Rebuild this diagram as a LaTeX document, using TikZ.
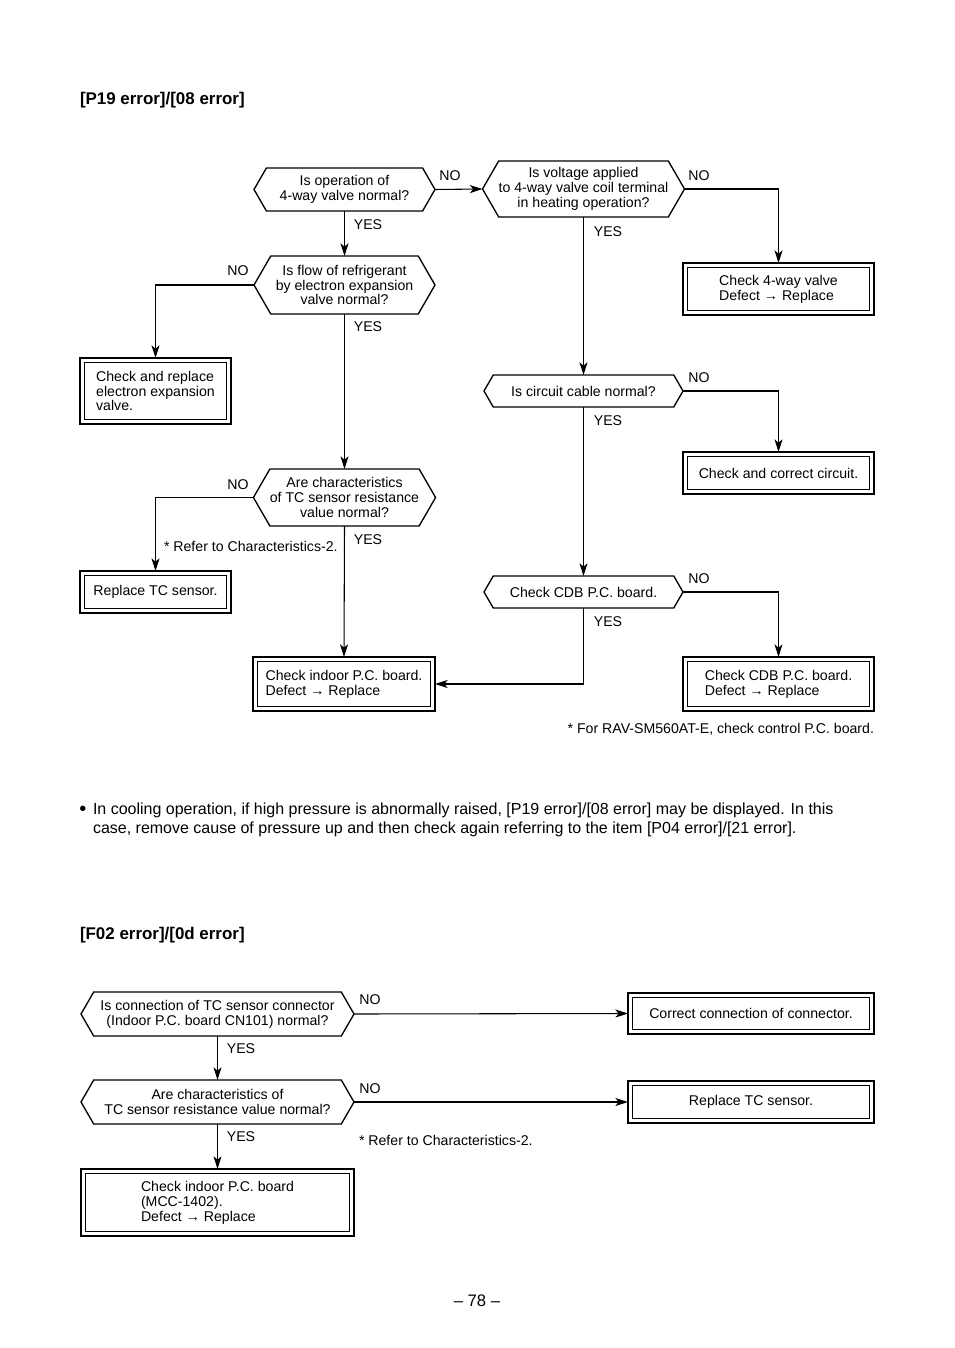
\documentclass[tikz,border=0pt]{standalone}
\usepackage{fontspec}
\setmainfont{Liberation Sans}
\usetikzlibrary{shapes.symbols,arrows.meta}
\newcommand\fnode{\fontsize{10.6}{11.2}\selectfont}
\newcommand\fbody{\fontsize{12}{14.25}\selectfont}
\newcommand\ftitle{\fontsize{12.7}{14}\selectfont\bfseries}
\newcommand\arr{→}
\begin{document}
\begin{tikzpicture}[x=0.75pt,y=-0.75pt,
  every node/.style={inner sep=0pt, outer sep=0pt, font=\fnode},
  dec/.style 2 args={signal, signal to=east and west, signal pointer angle=120, draw, line width=1pt, minimum width=#1*0.75pt, minimum height=#2*0.75pt, align=center},
  box/.style 2 args={draw, line width=2pt, rectangle, minimum width=#1*0.75pt, minimum height=#2*0.75pt,
    path picture={\draw[line width=0.7pt] ([shift={(3.2pt,-3.2pt)}]path picture bounding box.north west) rectangle ([shift={(-3.2pt,3.2pt)}]path picture bounding box.south east);}},
  flow/.style={line width=0.8pt, -{Stealth[length=9.5pt,width=6pt,inset=2.5pt]}},
  plain/.style={line width=0.8pt}
]
\useasboundingbox (0,0) rectangle (954,1348);

% ---------- Chart 1 ----------
\node[anchor=west, font=\ftitle] (t1) at (80,100.5) {[P19 error]/[08 error]};

\node[dec={181}{43}] (A) at (344.5,189.5) {Is operation of\\4-way valve normal?};
\node[dec={199}{56}] (B) at (583.5,189) {Is voltage applied\\to 4-way valve coil terminal\\in heating operation?};
\node[dec={181}{58}] (C) at (344.5,285) {Is flow of refrigerant\\by electron expansion\\valve normal?};
\node[box={151}{66}, align=left] (D) at (155.5,391) {Check and replace\\electron expansion\\valve.};
\node[box={191}{52}, align=left] (E) at (778.5,289) {Check 4-way valve\\Defect \arr{} Replace};
\node[dec={199}{32}] (F) at (583.5,391) {Is circuit cable normal?};
\node[box={191}{42}] (G) at (778.5,473) {Check and correct circuit.};
\node[dec={181}{57}] (H) at (344.5,497.5) {Are characteristics\\of TC sensor resistance\\value normal?};
\node[box={151}{42}] (I) at (155.5,592) {Replace TC sensor.};
\node[dec={199}{32}] (J) at (583.5,592) {Check CDB P.C. board.};
\node[box={182}{54}, align=left] (K) at (344,684) {Check indoor P.C. board.\\Defect \arr{} Replace};
\node[box={191}{54}, align=left] (L) at (778.5,684) {Check CDB P.C. board.\\Defect \arr{} Replace};

\draw[flow] (A.east) -- (B.west);
\draw[flow] (A.south) -- (C.north);
\draw[flow] (B.east) -| (E.north);
\draw[flow] (B.south) -- (F.north);
\draw[flow] (C.west) -| (D.north);
\draw[flow] (C.south) -- (H.north);
\draw[flow] (F.east) -| (G.north);
\draw[flow] (F.south) -- (J.north);
\draw[flow] (H.west) -| (I.north);
\draw[flow] (H.south) -- (K.north);
\draw[flow] (J.east) -| (L.north);
\draw[flow] (J.south) |- (K.east);

\node (l1) at (450,175.5) {NO};
\node (l2) at (368,224.5) {YES};
\node (l3) at (699,175.5) {NO};
\node (l4) at (608,231.5) {YES};
\node (l5) at (238,270.5) {NO};
\node (l6) at (368,326.5) {YES};
\node (l7) at (699,377.5) {NO};
\node (l8) at (608,420.5) {YES};
\node (l9) at (238,484.5) {NO};
\node[anchor=west] (r1) at (164,546.5) {* Refer to Characteristics-2.};
\node (l10) at (368,539.5) {YES};
\node (l11) at (699,578.5) {NO};
\node (l12) at (608,621.5) {YES};
\node[anchor=east] (fn) at (874,729.5) {* For RAV-SM560AT-E, check control P.C. board.};

% ---------- Bullet ----------
\node[font=\fontsize{15}{15}\selectfont] (bul) at (83,811) {•};
\node[font=\fbody, align=left, anchor=north west] (btxt) at (93,803) {In cooling operation, if high pressure is abnormally raised, [P19 error]/[08 error] may be displayed. In this\\case, remove cause of pressure up and then check again referring to the item [P04 error]/[21 error].};

% ---------- Chart 2 ----------
\node[anchor=west, font=\ftitle] (t2) at (80,935.5) {[F02 error]/[0d error]};

\node[dec={273}{44}] (M) at (217.5,1014) {Is connection of TC sensor connector\\(Indoor P.C. board CN101) normal?};
\node[box={246}{41}] (N) at (751,1013.5) {Correct connection of connector.};
\node[dec={273}{44}] (O) at (217.5,1102) {Are characteristics of\\TC sensor resistance value normal?};
\node[box={246}{42}] (P) at (751,1102) {Replace TC sensor.};
\node[box={273}{67}, align=left] (Q) at (217.5,1202.5) {Check indoor P.C. board\\(MCC-1402).\\Defect \arr{} Replace};

\draw[flow] (M.east) -- (N.west);
\draw[flow] (M.south) -- (O.north);
\draw[flow] (O.east) -- (P.west);
\draw[flow] (O.south) -- (Q.north);

\node (m1) at (370,999.5) {NO};
\node (m2) at (241,1048.5) {YES};
\node (m3) at (370,1088.5) {NO};
\node[anchor=west] (r2) at (359,1140.5) {* Refer to Characteristics-2.};
\node (m4) at (241,1136.5) {YES};

\node[font=\fontsize{12.5}{14}\selectfont] (pg) at (477,1301) {– 78 –};
\end{tikzpicture}
\end{document}
